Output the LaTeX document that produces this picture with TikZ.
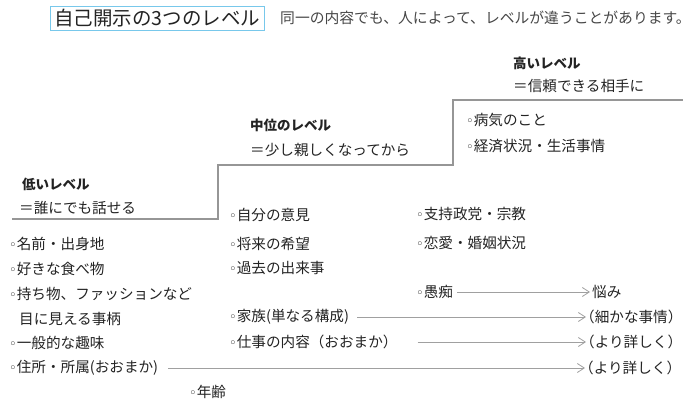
\documentclass[tikz,border=0pt]{standalone}
\usepackage{fontspec}
\newfontfamily\jp{Noto Sans CJK JP}
\newfontfamily\dv{DejaVu Sans}
\usetikzlibrary{arrows.meta}
\definecolor{txt}{RGB}{35,35,35}
\definecolor{subt}{RGB}{70,70,70}
\definecolor{stair}{RGB}{150,150,150}
\definecolor{arrc}{RGB}{160,160,160}
\definecolor{tbox}{RGB}{120,200,235}
\newcommand\bl{{\dv\fontsize{13}{13}\selectfont ◦}}
\begin{document}
\begin{tikzpicture}[x=1pt,y=-1pt,
 every node/.style={inner sep=0pt, text=txt, font=\jp\fontsize{14.6}{16}\selectfont},
 item/.style={anchor=west},
 head/.style={anchor=west, font=\jp\bfseries\fontsize{13.5}{16}\selectfont},
 arr/.style={draw=arrc, line width=0.8pt, -{Straight Barb[length=7pt,width=9pt]}, shorten <=6pt, shorten >=2pt},
 wide/.style={shorten >=-6pt},
 stairline/.style={draw=stair, line width=1.6pt}]
\useasboundingbox (0,0) rectangle (700,403);
% title
\node[draw=tbox, line width=0.8pt, inner xsep=4pt, inner ysep=3pt, anchor=west,
      font=\jp\fontsize{19.5}{21}\selectfont] (title) at (50,18) {自己開示の3つのレベル};
\node[anchor=west, text=subt, font=\jp\fontsize{14.8}{16}\selectfont] (sub) at (280,18)
  {同一の内容でも、人によって、レベルが違うことがあります。};
% staircase
\draw[stairline] (12,219) -- (218,219) -- (218,165) -- (453,165) -- (453,100) -- (683,100);
% level headings
\node[head] (hiH) at (513,63) {高いレベル};
\node[item] (hiD) at (513,86) {＝信頼できる相手に};
\node[head] (midH) at (250,125) {中位のレベル};
\node[item] (midD) at (250,150) {＝少し親しくなってから};
\node[head] (lowH) at (22,184) {低いレベル};
\node[item] (lowD) at (19,208) {＝誰にでも話せる};
% high items
\node[item] (h1) at (466,120) {\bl 病気のこと};
\node[item] (h2) at (466,146) {\bl 経済状況・生活事情};
% middle items
\node[item] (m1) at (229,215) {\bl 自分の意見};
\node[item] (m2) at (229,244) {\bl 将来の希望};
\node[item] (m3) at (229,268) {\bl 過去の出来事};
\node[item] (m4) at (229,317) {\bl 家族(単なる構成)};
\node[item] (m5) at (229,342) {\bl 仕事の内容（おおまか）};
\node[item] (m6) at (189,392) {\bl 年齢};
% right items
\node[item] (r1) at (416,214) {\bl 支持政党・宗教};
\node[item] (r2) at (416,243) {\bl 恋愛・婚姻状況};
\node[item] (r3) at (416,292) {\bl 愚痴};
% low items
\node[item] (l1) at (9,244) {\bl 名前・出身地};
\node[item] (l2) at (9,269) {\bl 好きな食べ物};
\node[item] (l3) at (9,294) {\bl 持ち物、ファッションなど};
\node[item] (l4) at (19,319) {目に見える事柄};
\node[item] (l5) at (9,343) {\bl 一般的な趣味};
\node[item] (l6) at (9,368) {\bl 住所・所属(おおまか)};
% targets
\node[item] (t1) at (592,292) {悩み};
\node[item] (t2) at (580,317) {（細かな事情）};
\node[item] (t3) at (580,342) {（より詳しく）};
\node[item] (t4) at (579,368) {（より詳しく）};
% arrows
\draw[arr, shorten <=4pt] (r3) -- (t1);
\draw[arr, wide, shorten <=8pt] (m4) -- (t2);
\draw[arr, wide, shorten <=20pt] (m5) -- (t3);
\draw[arr, wide, shorten <=10pt] (l6) -- (t4);
\end{tikzpicture}
\end{document}
